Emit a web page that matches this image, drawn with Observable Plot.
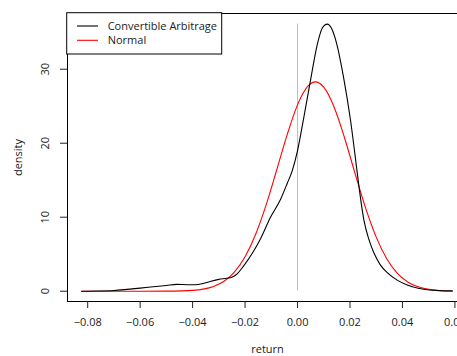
<!DOCTYPE html>
<html><head><meta charset="utf-8">
<script src="https://cdn.jsdelivr.net/npm/d3@7"></script>
<script src="https://cdn.jsdelivr.net/npm/@observablehq/plot@0.6"></script>
<style>html,body{margin:0;padding:0;overflow:hidden;background:#fff;width:457px;height:356px}#chart{width:470px}svg{max-width:none !important}</style>
</head><body><div id="chart"></div>
<script>
// Convertible Arbitrage kernel density
const caX = [-0.0823,-0.076,-0.070,-0.065,-0.060,-0.055,-0.050,-0.046,-0.042,-0.039,-0.036,-0.033,-0.030,-0.027,-0.025,-0.023,-0.0206,-0.0166,-0.0141,-0.0103,-0.0065,-0.0039,-0.002,0,0.0024,0.005,0.0075,0.0095,0.0113,0.013,0.0151,0.0176,0.0202,0.0221,0.0234,0.0253,0.0272,0.0291,0.0315,0.0342,0.038,0.0418,0.046,0.0494,0.054,0.059];
const caY = [0,0.03,0.1,0.25,0.42,0.6,0.78,0.92,0.88,0.88,1.05,1.35,1.6,1.75,1.9,2.35,3.4,5.5,7.1,10.0,12.4,14.6,16.3,19.0,23.5,28.6,33.3,35.6,36.1,35.5,33.2,28.8,23.1,17.9,14.2,9.6,7.0,5.2,3.6,2.5,1.5,0.85,0.4,0.2,0.08,0.04];
// Normal density
const nX = [-0.0823,-0.060,-0.050,-0.044,-0.040,-0.036,-0.032,-0.028,-0.024,-0.020,-0.016,-0.012,-0.008,-0.004,0.000,0.004,0.0068,0.010,0.014,0.018,0.022,0.026,0.030,0.034,0.038,0.042,0.046,0.050,0.054,0.059];
const nY = [0,0.0005,0.009,0.043,0.115,0.283,0.641,1.34,2.61,4.65,7.66,11.63,16.31,21.10,25.18,27.74,28.29,27.57,24.83,20.64,15.83,11.19,7.31,4.40,2.45,1.25,0.59,0.26,0.10,0.03];
const xTicks = [-0.08,-0.06,-0.04,-0.02,0.00,0.02,0.04,0.06];
const yTicks = [0,10,20,30];
const seriesNames = ["Convertible Arbitrage","Normal"];
const seriesColors = ["black","red"];

const ca = caX.map((x,i)=>({x, y: caY[i]}));
const nm = nX.map((x,i)=>({x, y: nY[i]}));
const FONT = "'Open Sans', sans-serif";

const plot = Plot.plot({
  width: 470, height: 356,
  marginLeft: 67, marginRight: 3, marginTop: 13, marginBottom: 55,
  style: {fontFamily: FONT, fontSize: "11px", background: "white", color: "#222", maxWidth: "none"},
  x: {domain: [-0.0877, 0.0648]},
  y: {domain: [-1.39, 37.53]},
  marks: [
    Plot.frame({stroke: "black"}),
    Plot.ruleX([0], {y1: 0, y2: d3.max(caY), stroke: "#bbb", strokeWidth: 1}),
    Plot.line(nm, {x: "x", y: "y", stroke: seriesColors[1], strokeWidth: 1.1, curve: "monotone-x"}),
    Plot.line(ca, {x: "x", y: "y", stroke: seriesColors[0], strokeWidth: 1.1, curve: "monotone-x"}),
    Plot.axisX({ticks: xTicks, tickSize: 7, tickPadding: 10, tickFormat: d3.format(".2f"),
      label: "return", labelAnchor: "center", labelArrow: "none", labelOffset: 51}),
    Plot.axisY({ticks: yTicks, tickSize: 7, tickPadding: 12, tickRotate: -90,
      label: "density", labelAnchor: "center", labelArrow: "none", labelOffset: 53})
  ]
});
plot.style.maxWidth = "none";
document.getElementById("chart").appendChild(plot);

// legend
const svg = d3.select(plot);
const lg = svg.append("g").attr("font-family", FONT).attr("font-size", 11).attr("text-anchor", "start");
lg.append("rect").attr("x", 66.7).attr("y", 12.7).attr("width", 155).attr("height", 41.3)
  .attr("fill", "white").attr("stroke", "black");
seriesNames.forEach((name, i) => {
  const yy = 26 + i * 14.3;
  lg.append("line").attr("x1", 77).attr("x2", 98).attr("y1", yy).attr("y2", yy)
    .attr("stroke", seriesColors[i]).attr("stroke-width", 1.1);
  lg.append("text").attr("x", 107.7).attr("y", yy).attr("dy", "0.35em")
    .attr("text-anchor", "start").attr("fill", "#222").text(name);
});
</script></body></html>
